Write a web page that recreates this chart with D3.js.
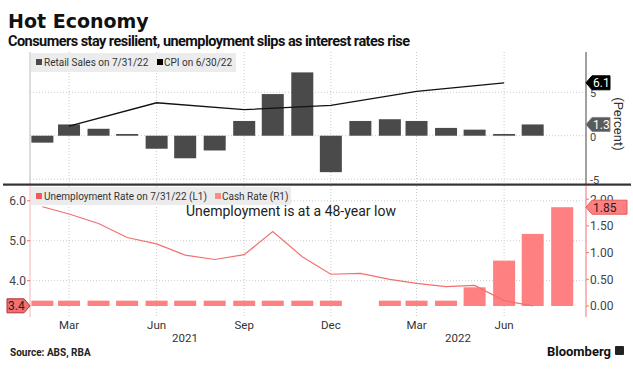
<!DOCTYPE html>
<html>
<head>
<meta charset="utf-8">
<script src="https://cdn.jsdelivr.net/npm/d3@7"></script>
<style>
  body { margin: 0; background: #fff; }
  svg { font-family: Roboto, "Liberation Sans", sans-serif; }
</style>
</head>
<body>
<script>
// monthly retail sales, % m/m, Feb 2021 .. Jul 2022
var retailMonths = ["2021-02", "2021-03", "2021-04", "2021-05", "2021-06", "2021-07", "2021-08", "2021-09",
    "2021-10", "2021-11", "2021-12", "2022-01", "2022-02", "2022-03", "2022-04", "2022-05", "2022-06", "2022-07"];
var retailSales = [-0.8, 1.3, 0.8, 0.2, -1.5, -2.6, -1.7, 1.7, 4.8, 7.3, -4.2, 1.7, 1.9, 1.7, 0.9, 0.7, 0.2, 1.3];

// quarterly CPI, % y/y
var cpiMonths = ["2021-03", "2021-06", "2021-09", "2021-12", "2022-03", "2022-06"];
var cpi = [1.1, 3.8, 3.0, 3.5, 5.1, 6.1];

// unemployment rate, %
var unempMonths = retailMonths;
var unemployment = [5.85, 5.67, 5.43, 5.08, 4.92, 4.64, 4.53, 4.65, 5.23, 4.6, 4.16, 4.18, 4.03, 3.93, 3.85, 3.88, 3.5, 3.37];

// RBA cash rate, % (no January meeting)
var cashMonths = ["2021-02", "2021-03", "2021-04", "2021-05", "2021-06", "2021-07", "2021-08", "2021-09",
    "2021-10", "2021-11", "2021-12", "2022-02", "2022-03", "2022-04", "2022-05", "2022-06", "2022-07", "2022-08"];
var cashRate = [0.1, 0.1, 0.1, 0.1, 0.1, 0.1, 0.1, 0.1, 0.1, 0.1, 0.1, 0.1, 0.1, 0.1, 0.35, 0.85, 1.35, 1.85];

var monthTicks = ["2021-03", "2021-06", "2021-09", "2021-12", "2022-03", "2022-06"];
var monthNames = ["Mar", "Jun", "Sep", "Dec", "Mar", "Jun"];
var topTicks = [-5, 0, 5];
var leftTicks = [4.0, 5.0, 6.0];
var rightTicks = [0, 0.5, 1, 1.5, 2];

var parse = d3.timeParse("%Y-%m");
var W = 633, H = 370;
var svg = d3.select("body").append("svg").attr("width", W).attr("height", H);

var x = d3.scaleUtc()
    .domain([new Date(Date.UTC(2021, 0, 19)), new Date(Date.UTC(2022, 7, 26))])
    .range([30, 586]);
function mx(m) {
    var d = parse(m);
    return x(new Date(Date.UTC(d.getFullYear(), d.getMonth(), 1)));
}

var yTop = d3.scaleLinear().domain([-5.45, 9.65]).range([183, 52]);
var yL = d3.scaleLinear().domain([3.09, 6.37]).range([317, 186]);
var yR = d3.scaleLinear().domain([-0.206, 2.247]).range([317, 186]);
var barW = 22;

// titles
svg.append("text").attr("x", 8).attr("y", 28).attr("font-size", 19).attr("font-weight", "bold")
    .style("font-family", "'DejaVu Sans', sans-serif")
    .attr("fill", "#111").text("Hot Economy");
svg.append("text").attr("x", 8).attr("y", 46).attr("font-size", 14.5).attr("font-weight", "bold")
    .attr("fill", "#111").attr("textLength", 402).text("Consumers stay resilient, unemployment slips as interest rates rise");

// ---------- top panel ----------
var topG = svg.append("g");
topG.selectAll(".vg").data(monthTicks).enter().append("line")
    .attr("x1", mx).attr("x2", mx).attr("y1", 52).attr("y2", 184)
    .attr("stroke", "#ccc").attr("stroke-dasharray", "1,2");
topG.selectAll(".hg").data(topTicks).enter().append("line")
    .attr("x1", 30).attr("x2", 586).attr("y1", yTop).attr("y2", yTop)
    .attr("stroke", "#ccc").attr("stroke-dasharray", "1,2");

topG.selectAll(".bar").data(retailSales).enter().append("rect")
    .attr("x", function (d, i) { return mx(retailMonths[i]) - barW / 2; })
    .attr("width", barW)
    .attr("y", function (d) { return yTop(Math.max(0, d)); })
    .attr("height", function (d) { return Math.max(1, Math.abs(yTop(d) - yTop(0))); })
    .attr("fill", "#4a4a4a");

topG.append("path")
    .datum(cpi)
    .attr("d", d3.line().x(function (d, i) { return mx(cpiMonths[i]); }).y(function (d) { return yTop(d); }))
    .attr("fill", "none").attr("stroke", "#111").attr("stroke-width", 1.3);

topG.append("line").attr("x1", 30).attr("x2", 30).attr("y1", 52).attr("y2", 184).attr("stroke", "#bbb");
topG.append("line").attr("x1", 586).attr("x2", 586).attr("y1", 52).attr("y2", 184).attr("stroke", "#444");
topG.selectAll(".rt").data(topTicks).enter().append("text")
    .attr("x", 590).attr("y", function (d) { return yTop(d) + 5; })
    .attr("font-size", 11).attr("fill", "#444").text(function (d) { return d; });
topG.append("text").attr("transform", "translate(614,124) rotate(90)")
    .attr("text-anchor", "middle").attr("font-size", 13).attr("fill", "#333").text("(Percent)");

// legend
topG.append("rect").attr("x", 31).attr("y", 53).attr("width", 205).attr("height", 19).attr("fill", "#ececec");
topG.append("rect").attr("x", 36).attr("y", 59).attr("width", 6).attr("height", 6).attr("fill", "#4a4a4a");
topG.append("text").attr("x", 44).attr("y", 66).attr("font-size", 10).attr("fill", "#333").text("Retail Sales on 7/31/22");
topG.append("rect").attr("x", 157).attr("y", 59).attr("width", 6).attr("height", 6).attr("fill", "#000");
topG.append("text").attr("x", 164).attr("y", 66).attr("font-size", 10).attr("fill", "#333").text("CPI on 6/30/22");

function rightTag(g, yv, label, fill, stroke, color, w) {
    var p = "M586," + yv + " L592," + (yv - 7) + " L" + (592 + w) + "," + (yv - 7) +
        " L" + (592 + w) + "," + (yv + 7) + " L592," + (yv + 7) + " Z";
    g.append("path").attr("d", p).attr("fill", fill).attr("stroke", stroke);
    g.append("text").attr("x", 593).attr("y", yv + 4.5).attr("font-size", 12).attr("fill", color).text(label);
}
rightTag(topG, yTop(cpi[cpi.length - 1]), "6.1", "#000", "#000", "#fff", 18);
rightTag(topG, yTop(retailSales[retailSales.length - 1]), "1.3", "#5a5a5a", "#888", "#fff", 18);

// separator
svg.append("rect").attr("x", 3).attr("y", 183.5).attr("width", 628).attr("height", 2.2).attr("fill", "#333");

// ---------- bottom panel ----------
var botG = svg.append("g");
botG.selectAll(".vg").data(monthTicks).enter().append("line")
    .attr("x1", mx).attr("x2", mx).attr("y1", 186).attr("y2", 317)
    .attr("stroke", "#ccc").attr("stroke-dasharray", "1,2");
botG.selectAll(".hg").data(leftTicks).enter().append("line")
    .attr("x1", 30).attr("x2", 586).attr("y1", yL).attr("y2", yL)
    .attr("stroke", "#ccc").attr("stroke-dasharray", "1,2");

botG.selectAll(".cash").data(cashRate).enter().append("rect")
    .attr("x", function (d, i) { return mx(cashMonths[i]) - barW / 2; })
    .attr("width", barW)
    .attr("y", function (d) { return yR(d); })
    .attr("height", function (d) { return yR(0) - yR(d); })
    .attr("fill", "#ff8080");

botG.append("path")
    .datum(unemployment)
    .attr("d", d3.line().x(function (d, i) { return mx(unempMonths[i]); }).y(function (d) { return yL(d); }))
    .attr("fill", "none").attr("stroke", "#f46f6f").attr("stroke-width", 1.2);

botG.append("line").attr("x1", 30).attr("x2", 30).attr("y1", 186).attr("y2", 317).attr("stroke", "#f8b4b4");
botG.append("line").attr("x1", 586).attr("x2", 586).attr("y1", 186).attr("y2", 317).attr("stroke", "#f47070");
botG.selectAll(".lt").data(leftTicks).enter().append("text")
    .attr("x", 26).attr("y", function (d) { return yL(d) + 4.5; }).attr("text-anchor", "end")
    .attr("font-size", 12).attr("fill", "#444").text(function (d) { return d.toFixed(1); });
botG.selectAll(".ltk").data(leftTicks).enter().append("line")
    .attr("x1", 27).attr("x2", 30).attr("y1", yL).attr("y2", yL).attr("stroke", "#f47070");
botG.selectAll(".rt").data(rightTicks).enter().append("text")
    .attr("x", 590).attr("y", function (d) { return yR(d) + 4.5; })
    .attr("font-size", 12).attr("fill", "#444").text(function (d) { return d.toFixed(2); });
botG.selectAll(".rtk").data(rightTicks).enter().append("line")
    .attr("x1", 586).attr("x2", 589).attr("y1", yR).attr("y2", yR).attr("stroke", "#f47070");

// legend
botG.append("rect").attr("x", 31).attr("y", 187).attr("width", 260).attr("height", 18).attr("fill", "#ececec");
botG.append("rect").attr("x", 36).attr("y", 193).attr("width", 6).attr("height", 6).attr("fill", "#f05a5a");
botG.append("text").attr("x", 44).attr("y", 200).attr("font-size", 10).attr("fill", "#333").text("Unemployment Rate on 7/31/22 (L1)");
botG.append("rect").attr("x", 215).attr("y", 193).attr("width", 6).attr("height", 6).attr("fill", "#ff8a8a");
botG.append("text").attr("x", 222).attr("y", 200).attr("font-size", 10).attr("fill", "#333").text("Cash Rate (R1)");

botG.append("text").attr("x", 186).attr("y", 216).attr("font-size", 14).attr("fill", "#222")
    .text("Unemployment is at a 48-year low");

// tags
var yc = yR(cashRate[cashRate.length - 1]);
botG.append("path").attr("d", "M586," + yc + " L592," + (yc - 7) + " L627," + (yc - 7) + " L627," + (yc + 7) + " L592," + (yc + 7) + " Z")
    .attr("fill", "#ff8080").attr("stroke", "#e05a5a");
botG.append("text").attr("x", 593).attr("y", yc + 4.5).attr("font-size", 12).attr("fill", "#222").text("1.85");
var yu = yL(unemployment[unemployment.length - 1]);
botG.append("path").attr("d", "M30," + yu + " L24," + (yu - 7) + " L7," + (yu - 7) + " L7," + (yu + 7) + " L24," + (yu + 7) + " Z")
    .attr("fill", "#f46f6f").attr("stroke", "#a33");
botG.append("text").attr("x", 8).attr("y", yu + 4.5).attr("font-size", 12).attr("fill", "#222").text("3.4");

// x axis labels
svg.selectAll(".xl").data(monthTicks).enter().append("text")
    .attr("x", mx).attr("y", 329).attr("text-anchor", "middle")
    .attr("font-size", 11.5).attr("fill", "#333").text(function (d, i) { return monthNames[i]; });
svg.selectAll(".yl").data([["2021", 185], ["2022", 458]]).enter().append("text")
    .attr("x", function (d) { return d[1]; }).attr("y", 342).attr("text-anchor", "middle")
    .attr("font-size", 11.5).attr("fill", "#333").text(function (d) { return d[0]; });

// footer
svg.append("text").attr("x", 10).attr("y", 356).attr("font-size", 10).attr("font-weight", "bold")
    .attr("fill", "#222").text("Source: ABS, RBA");
svg.append("text").attr("x", 611).attr("y", 356).attr("text-anchor", "end").attr("font-size", 13)
    .attr("font-weight", "bold").attr("fill", "#111").text("Bloomberg");
svg.append("rect").attr("x", 615).attr("y", 346).attr("width", 9).attr("height", 9).attr("rx", 1).attr("fill", "#222");
</script>
</body>
</html>
